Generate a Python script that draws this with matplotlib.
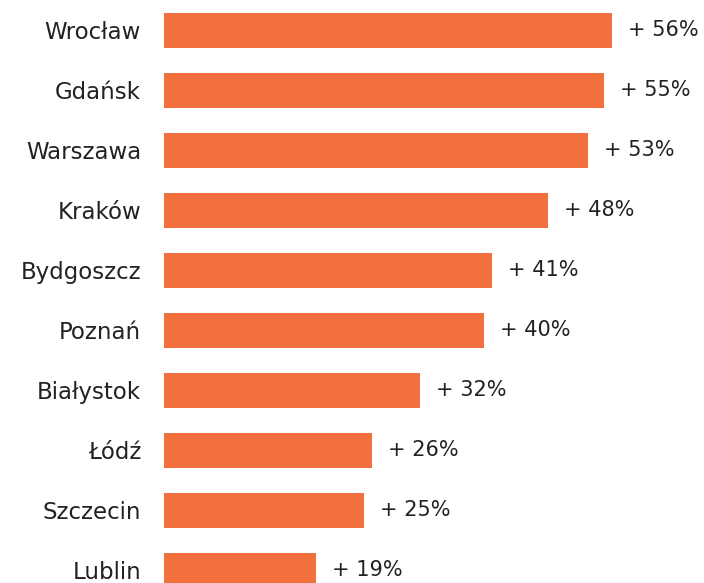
import matplotlib.pyplot as plt

# Dane: wzrost w procentach
miasta = ["Wrocław", "Gdańsk", "Warszawa", "Kraków", "Bydgoszcz",
          "Poznań", "Białystok", "Łódź", "Szczecin", "Lublin"]
wzrost = [56, 55, 53, 48, 41, 40, 32, 26, 25, 19]
etykiety = [f"+ {w}%" for w in wzrost]

KOLOR = "#F2703E"
TEKST = "#222222"

fig = plt.figure(figsize=(7.04, 5.83), dpi=100)
ax = fig.add_axes([164 / 704, 0, 540 / 704, 1])

pozycje = list(range(len(miasta)))
słupki = ax.barh(pozycje, wzrost, height=0.58, color=KOLOR)

ax.set_xlim(0, 67.5)
ax.set_ylim((583 - 30.5) / 60, -30.5 / 60)

ax.set_yticks(pozycje)
ax.set_yticklabels(miasta, fontsize=16.5, color=TEKST)
ax.tick_params(axis="y", length=0, pad=16.5)
ax.set_xticks([])

ax.bar_label(słupki, labels=etykiety, padding=11.5, fontsize=15, color=TEKST)

for s in ax.spines.values():
    s.set_visible(False)

fig.savefig("out.png", dpi=100, facecolor="white")
